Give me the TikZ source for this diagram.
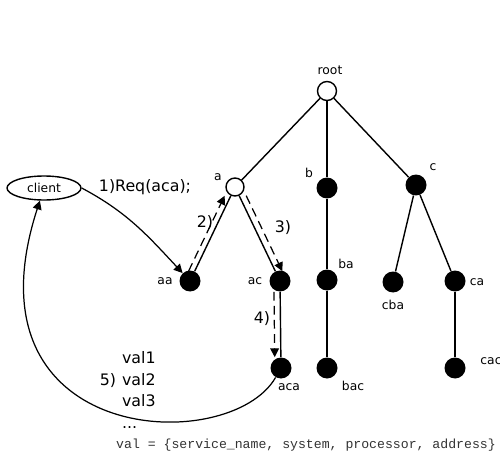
\documentclass[tikz,border=0pt]{standalone}
\usepackage{fontspec}
\setmainfont{DejaVu Sans}
\setmonofont{Liberation Mono}
\usepackage{tikz}
\usetikzlibrary{arrows.meta,shapes.geometric}

\begin{document}
\begin{tikzpicture}[x=0.02cm, y=0.02cm,
		empty/.style={circle, draw, thick, fill=white, minimum size=0.38cm, inner sep=0pt},
		full/.style={circle, fill=black, minimum size=0.42cm, inner sep=0pt},
		lbl/.style={font=\fontsize{7}{8}\selectfont, inner sep=1pt},
		big/.style={font=\fontsize{9}{11}\selectfont, inner sep=1pt},
		edge/.style={line width=0.8pt},
		msg/.style={line width=0.7pt, dashed, dash pattern=on 5pt off 3pt, -{Triangle[length=5pt, width=5pt]}},
		call/.style={line width=0.7pt, -{Triangle[length=5pt, width=5pt]}}]
			\useasboundingbox (0,0) rectangle (500,457);
			% tree
			\node [empty] (root) at (327,366) {};
			\node [empty, minimum size=0.36cm] (a) at (235,270) {};
			\node [full] (b) at (327,269) {};
			\node [full] (c) at (416,272) {};
			\node [full] (aa) at (190,176) {};
			\node [full] (ac) at (280,176) {};
			\node [full] (ba) at (327,177) {};
			\node [full] (cba) at (393,175) {};
			\node [full] (ca) at (455,176) {};
			\node [full] (aca) at (281,89) {};
			\node [full] (bac) at (327,89) {};
			\node [full] (cac) at (455,89) {};
			\draw [edge] (root) -- (a);
			\draw [edge] (root) -- (b);
			\draw [edge] (root) -- (c);
			\draw [edge] (a) -- (aa);
			\draw [edge] (a) -- (ac);
			\draw [edge] (ac) -- (aca);
			\draw [edge] (b) -- (ba);
			\draw [edge] (ba) -- (bac);
			\draw [edge] (c) -- (cba);
			\draw [edge] (c) -- (ca);
			\draw [edge] (ca) -- (cac);
			% names
			\node [lbl] (l-root) at (330,387) {root};
			\node [lbl] (l-a) at (218,280) {a};
			\node [lbl] (l-b) at (309,284) {b};
			\node [lbl] (l-c) at (433,290) {c};
			\node [lbl] (l-aa) at (165,176) {aa};
			\node [lbl] (l-ac) at (255,176) {ac};
			\node [lbl] (l-ba) at (346,193) {ba};
			\node [lbl] (l-cba) at (393,152) {cba};
			\node [lbl] (l-ca) at (477,175) {ca};
			\node [lbl] (l-aca) at (289,70) {aca};
			\node [lbl] (l-bac) at (353,71) {bac};
			\node [lbl] (l-cac) at (491,96) {cac};
			% client and request
			\node [draw, ellipse, thick, minimum width=1.48cm, minimum height=0.48cm, inner sep=0pt, lbl] (client) at (44,269) {client};
			\draw [call] (client.east) to [out=-28, in=133] (aa);
			\draw [msg, transform canvas={xshift=-3.5pt}] (aa) -- (a);
			\draw [msg, transform canvas={xshift=4pt}] (a) -- (ac);
			\draw [msg, transform canvas={xshift=-3.5pt}] (ac) -- (aca);
			\draw [call] (aca) .. controls (230,0) and (-40,10) .. (client);
			\node [big] (req) at (145,270) {1)Req(aca);};
			\node [big] (s2) at (205,234) {2)};
			\node [big] (s3) at (283,229) {3)};
			\node [big] (s4) at (262,138) {4)};
			\node [big] (s5) at (108,76) {5)};
			\node [big, anchor=west] (v1) at (120,99) {val1};
			\node [big, anchor=west] (v2) at (120,77) {val2};
			\node [big, anchor=west] (v3) at (120,56) {val3};
			\node [big, anchor=west] (v4) at (120,29) {...};
			\node [font=\fontsize{7.5}{9}\ttfamily, text=black!80, inner sep=0pt] (legend) at (306,12) {val = \{service\_name, system, processor, address\}};
		\end{tikzpicture}
\end{document}
